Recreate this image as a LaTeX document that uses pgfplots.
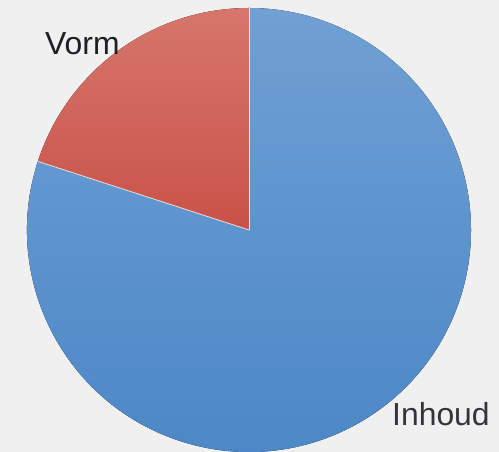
\documentclass[border=0pt]{standalone}
\usepackage{pgfplots}
\pgfplotsset{compat=1.18}
\usepackage{pgfplotstable}
\usepackage{fontspec}
\setmainfont{Liberation Sans}
\definecolor{bg}{RGB}{241,240,240}
\definecolor{redtop}{RGB}{214,118,108}
\definecolor{redbot}{RGB}{202,82,72}
\definecolor{bluetop}{RGB}{112,160,212}
\definecolor{bluebot}{RGB}{74,134,198}
\definecolor{txt}{RGB}{30,30,35}
\pgfplotstableread{
label value
Inhoud 80
Vorm 20
}\piedata
\begin{document}
\begin{tikzpicture}
\pgfplotstablegetelem{0}{value}\of\piedata \let\vA\pgfplotsretval
\pgfplotstablegetelem{1}{value}\of\piedata \let\vB\pgfplotsretval
\pgfmathsetmacro\aEnd{90+360*\vB/(\vA+\vB)}
\begin{axis}[x=1bp,y=1bp,xmin=0,xmax=499,ymin=0,ymax=452,hide axis,scale only axis,clip=true]
\fill[bg] (axis cs:0,0) rectangle (axis cs:499,452);
\fill[top color=bluetop,bottom color=bluebot] (axis cs:249,222) -- ++(\aEnd:222bp) arc[start angle=\aEnd,end angle=450,radius=222bp] -- cycle;
\fill[top color=redtop,bottom color=redbot] (axis cs:249,222) -- ++(90:222bp) arc[start angle=90,end angle=\aEnd,radius=222bp] -- cycle;
\draw[white!80!gray,line width=0.8bp] (axis cs:249,222) -- ++(90:222bp);
\draw[white!80!gray,line width=0.8bp] (axis cs:249,222) -- ++(\aEnd:222bp);
\node[anchor=base west,inner sep=0pt,text=txt,font=\fontsize{32}{36}\selectfont] at (axis cs:45,397) {Vorm};
\node[anchor=base west,inner sep=0pt,text=txt!90!white,font=\fontsize{32}{36}\selectfont] at (axis cs:392,26) {Inhoud};
\end{axis}
\end{tikzpicture}
\end{document}
